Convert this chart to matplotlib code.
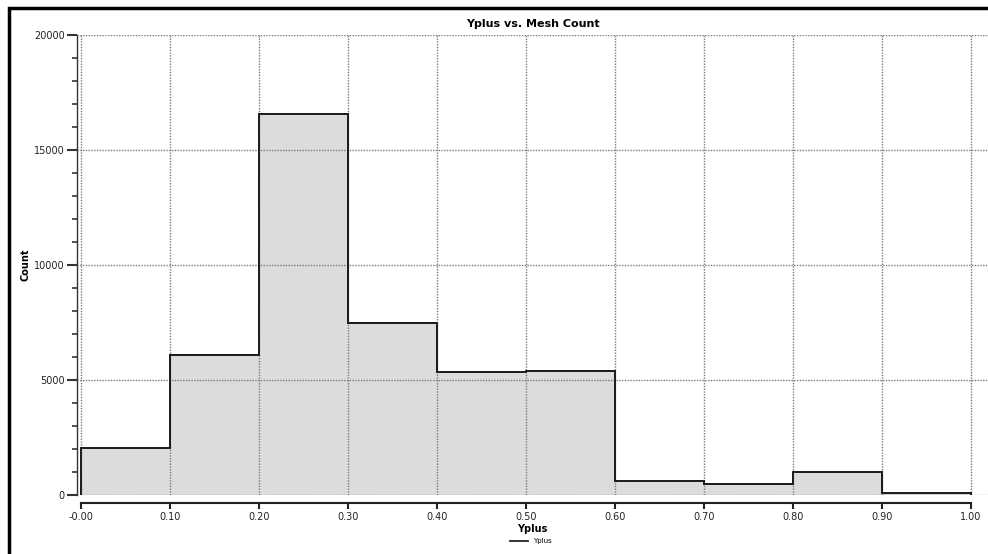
import matplotlib
matplotlib.use("Agg")
import matplotlib.pyplot as plt
from matplotlib.lines import Line2D
from matplotlib.patches import Rectangle
from matplotlib.ticker import MultipleLocator

# Histogram of y+ values per mesh cell
bin_edges = [0.0, 0.1, 0.2, 0.3, 0.4, 0.5, 0.6, 0.7, 0.8, 0.9, 1.0]
counts = [2050, 6100, 16550, 7500, 5330, 5390, 620, 500, 980, 90]
x_ticks = [0.0, 0.1, 0.2, 0.3, 0.4, 0.5, 0.6, 0.7, 0.8, 0.9, 1.0]
x_tick_labels = ["-0.00", "0.10", "0.20", "0.30", "0.40", "0.50",
                 "0.60", "0.70", "0.80", "0.90", "1.00"]
y_ticks = [0, 5000, 10000, 15000, 20000]

W, H = 988, 554
fig = plt.figure(figsize=(W / 100, H / 100), dpi=100)
fig.patch.set_facecolor("white")

# plot area in pixel units
left_px, right_px, top_px, bottom_px = 77, 988, 35, 495
ax = fig.add_axes([left_px / W, 1 - bottom_px / H,
                   (right_px - left_px) / W, (bottom_px - top_px) / H])

x0_px, x1_px = 81, 971
ppu = (x1_px - x0_px) / 1.0
ax.set_xlim(-(x0_px - left_px) / ppu, 1.0 + (right_px - x1_px) / ppu)
ax.set_ylim(0, 20000)

# filled histogram with outline
ax.stairs(counts, bin_edges, fill=True, color="#dcdcdc", zorder=1)
ax.stairs(counts, bin_edges, baseline=0, color="#1a1a1a", linewidth=1.4, zorder=4)

ax.grid(True, which="major", color="#7a7a7a", linestyle=(0, (1, 1)),
        linewidth=1.0, zorder=3)
ax.set_axisbelow(False)

ax.set_xticks(x_ticks)
ax.set_xticklabels(x_tick_labels)
ax.set_yticks(y_ticks)
ax.yaxis.set_minor_locator(MultipleLocator(1000))

for s in ("top", "right"):
    ax.spines[s].set_visible(False)
ax.spines["bottom"].set_position(("outward", 6))
ax.spines["bottom"].set_bounds(0.0, 1.0)
ax.spines["bottom"].set_linewidth(1.5)
ax.spines["bottom"].set_color("#222222")
ax.spines["left"].set_bounds(0, 20000)
ax.spines["left"].set_linewidth(1.0)
ax.spines["left"].set_color("#333333")

ax.tick_params(axis="x", which="major", direction="out", length=4, width=1.5,
               color="#222222", labelsize=7, labelcolor="#222222", pad=2)
ax.tick_params(axis="y", which="major", direction="out", length=7, width=1.5,
               color="#333333", labelsize=7, labelcolor="#222222", pad=2)
ax.tick_params(axis="y", which="minor", direction="out", length=3.5, width=1.3,
               color="#444444")

ax.set_title("Yplus vs. Mesh Count", fontsize=8, fontweight="bold", pad=6)
ax.set_xlabel("Yplus", fontsize=7, fontweight="bold", labelpad=2)
ax.set_ylabel("Count", fontsize=7, fontweight="bold")
ax.yaxis.set_label_coords((30 - left_px) / (right_px - left_px), 0.5)

handle = Line2D([], [], color="#222222", linewidth=1.3)
fig.legend([handle], ["Yplus"], loc="center", frameon=False, fontsize=5,
           handlelength=2.6, handletextpad=0.8,
           bbox_to_anchor=(531 / W, 1 - 541 / H))

# frame around the figure (left and top edges)
fig.patches.append(Rectangle((9 / W, -0.1), 1.2, 1.1 - 8 / H,
                             transform=fig.transFigure, fill=False,
                             edgecolor="black", linewidth=2.5, zorder=10))

fig.savefig("out.png", dpi=100)
